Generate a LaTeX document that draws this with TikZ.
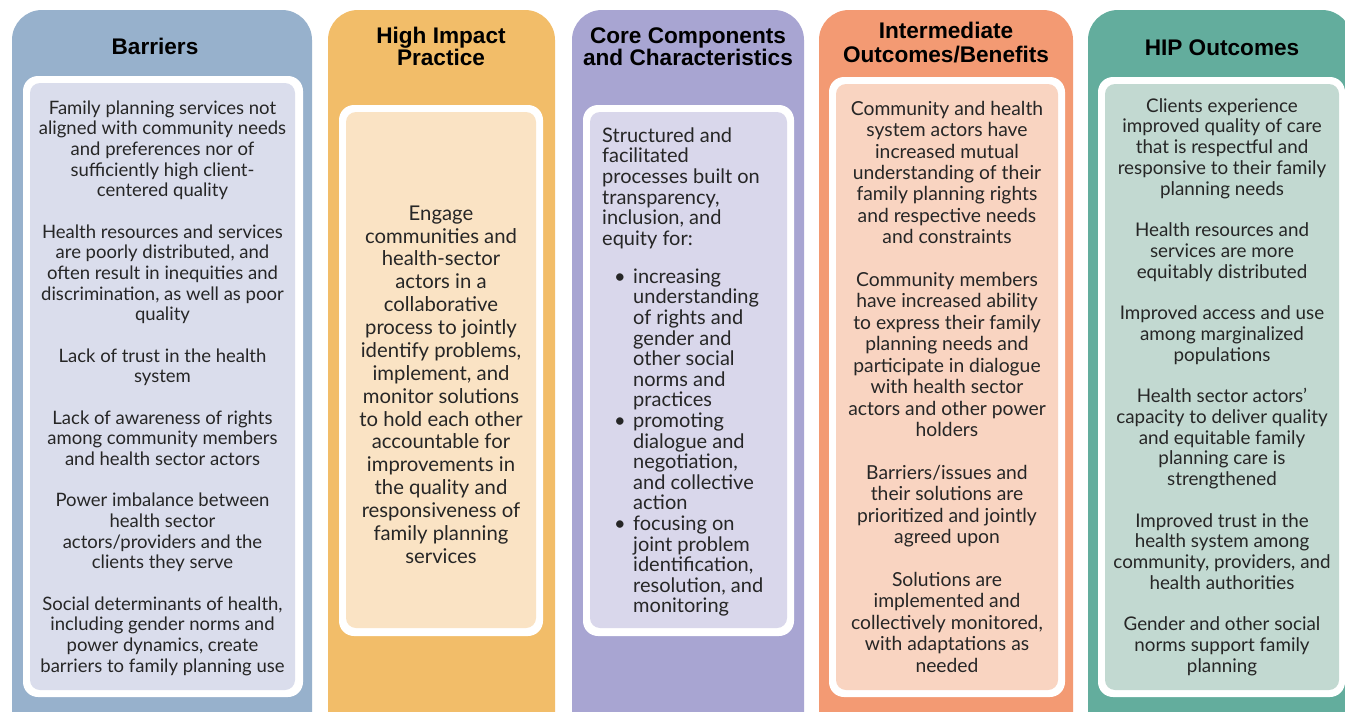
\documentclass[tikz,border=0pt]{standalone}
\usepackage{fontspec}
\setmainfont{Lato}
\newfontfamily\headfont{Liberation Sans}
\definecolor{outA}{HTML}{97B1CC}
\definecolor{inA}{HTML}{DADDEC}
\definecolor{outB}{HTML}{F2BD69}
\definecolor{inB}{HTML}{FAE3C4}
\definecolor{outC}{HTML}{A8A5D2}
\definecolor{inC}{HTML}{D9D7EB}
\definecolor{outD}{HTML}{F39A73}
\definecolor{inD}{HTML}{F9D4C1}
\definecolor{outE}{HTML}{63AD9D}
\definecolor{inE}{HTML}{C2D9D1}
\tikzset{
  outerbox/.style={rounded corners=30pt},
  whitebox/.style={fill=white, rounded corners=15pt},
  innerbox/.style={rounded corners=10pt},
  headtext/.style={anchor=north, inner sep=0pt, align=center, text=black,
    font={\headfont\bfseries\fontsize{22.6}{#1}\selectfont}},
  bodytext/.style 2 args={anchor=north, inner sep=0pt, align=center, text=black!85,
    font={\fontsize{#1}{#2}\selectfont}},
  bodyleft/.style 2 args={anchor=north west, inner sep=0pt, align=left, text=black!85,
    font={\fontsize{#1}{#2}\selectfont}}
}
\newcommand{\st}{\rule{0pt}{16pt}}
\newcommand{\hst}{\rule{0pt}{20pt}}
\newcommand{\bul}{\makebox[31pt][l]{\hspace{12pt}\textbullet}}
\newcommand{\ind}{\hspace*{31pt}}
\begin{document}
\begin{tikzpicture}[x=1pt,y=-1pt]
\useasboundingbox (0,0) rectangle (1345,712);
\fill[white] (0,0) rectangle (1345,712);
\clip (0,0) rectangle (1345,712);
% Column A: Barriers
\fill[outA, outerbox] (12,10) rectangle (312,745);
\fill[whitebox] (23,76) rectangle (303,697);
\fill[inA, innerbox] (30,83) rectangle (295,690);
% Column B: High Impact Practice
\fill[outB, outerbox] (328,10) rectangle (555,745);
\fill[whitebox] (339,105) rectangle (543,636);
\fill[inB, innerbox] (346,112) rectangle (536,628);
% Column C: Core
\fill[outC, outerbox] (572,10) rectangle (804,745);
\fill[whitebox] (583,105) rectangle (794,636);
\fill[inC, innerbox] (590,112) rectangle (787,628);
% Column D: Intermediate
\fill[outD, outerbox] (819,10) rectangle (1073,745);
\fill[whitebox] (829,77) rectangle (1065,697);
\fill[inD, innerbox] (836,84) rectangle (1058,690);
% Column E: HIP Outcomes
\fill[outE, outerbox] (1088,10) rectangle (1352,745);
\fill[whitebox] (1098,77) rectangle (1345,697);
\fill[inE, innerbox] (1105,84) rectangle (1339,690);

% Headings
\node[headtext=23] (hA) at (155,34) {\hst Barriers};
\node[headtext=22] (hB) at (441,23) {\hst High Impact\\Practice};
\node[headtext=22] (hC) at (688,23) {\hst Core Components\\and Characteristics};
\node[headtext=24] (hD) at (946,18) {\hst Intermediate\\Outcomes/Benefits};
\node[headtext=23] (hE) at (1222,35) {\hst HIP Outcomes};

% Body A
\node[bodytext={18.5}{20.67}] (tA) at (162.5,98) {\st Family planning services not\\
aligned with community needs\\
and preferences nor of\\
sufficiently high client-\\
centered quality\\[20.67pt]
Health resources and services\\
are poorly distributed, and\\
often result in inequities and\\
discrimination, as well as poor\\
quality\\[20.67pt]
Lack of trust in the health\\
system\\[20.67pt]
Lack of awareness of rights\\
among community members\\
and health sector actors\\[20.67pt]
Power imbalance between\\
health sector\\
actors/providers and the\\
clients they serve\\[20.67pt]
Social determinants of health,\\
including gender norms and\\
power dynamics, create\\
barriers to family planning use};

% Body B
\node[bodytext={20.3}{22.87}] (tB) at (441,204) {\st Engage\\
communities and\\
health-sector\\
actors in a\\
collaborative\\
process to jointly\\
identify problems,\\
implement, and\\
monitor solutions\\
to hold each other\\
accountable for\\
improvements in\\
the quality and\\
responsiveness of\\
family planning\\
services};

% Body C
\node[bodyleft={20}{20.6}] (tC) at (602,126) {\st Structured and\\
facilitated\\
processes built on\\
transparency,\\
inclusion, and\\
equity for:\\[17.4pt]
\bul increasing\\
\ind understanding\\
\ind of rights and\\
\ind gender and\\
\ind other social\\
\ind norms and\\
\ind practices\\
\bul promoting\\
\ind dialogue and\\
\ind negotiation,\\
\ind and collective\\
\ind action\\
\bul focusing on\\
\ind joint problem\\
\ind identification,\\
\ind resolution, and\\
\ind monitoring};

% Body D
\node[bodytext={19.3}{21.42}] (tD) at (947,99) {\st Community and health\\
system actors have\\
increased mutual\\
understanding of their\\
family planning rights\\
and respective needs\\
and constraints\\[21.42pt]
Community members\\
have increased ability\\
to express their family\\
planning needs and\\
participate in dialogue\\
with health sector\\
actors and other power\\
holders\\[21.42pt]
Barriers/issues and\\
their solutions are\\
prioritized and jointly\\
agreed upon\\[21.42pt]
Solutions are\\
implemented and\\
collectively monitored,\\
with adaptations as\\
needed};

% Body E
\node[bodytext={18.8}{20.74}] (tE) at (1222,96) {\st Clients experience\\
improved quality of care\\
that is respectful and\\
responsive to their family\\
planning needs\\[20.74pt]
Health resources and\\
services are more\\
equitably distributed\\[20.74pt]
Improved access and use\\
among marginalized\\
populations\\[20.74pt]
Health sector actors’\\
capacity to deliver quality\\
and equitable family\\
planning care is\\
strengthened\\[20.74pt]
Improved trust in the\\
health system among\\
community, providers, and\\
health authorities\\[20.74pt]
Gender and other social\\
norms support family\\
planning};
\end{tikzpicture}
\end{document}
